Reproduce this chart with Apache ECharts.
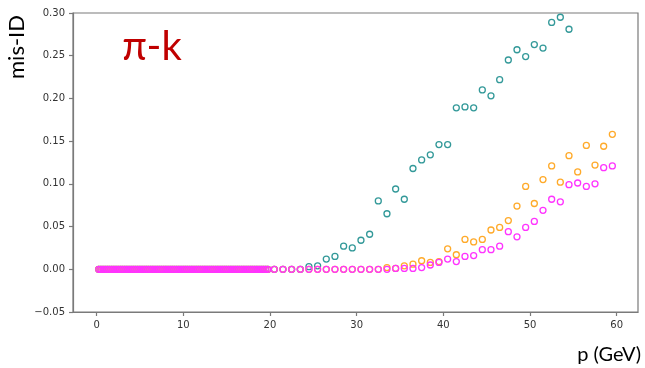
<!DOCTYPE html>
<html>
<head>
<meta charset="utf-8">
<script src="https://cdn.jsdelivr.net/npm/echarts@6/dist/echarts.min.js"></script>
<style>
  html, body { margin: 0; padding: 0; background: #fff; }
  #chart { width: 645px; height: 368px; }
</style>
</head>
<body>
<div id="chart"></div>
<script>
// Momentum bins (GeV): fine 0.25 GeV binning below 20 GeV, 1 GeV bins above
const pLow = [
  0.25, 0.5, 0.75, 1, 1.25, 1.5, 1.75, 2, 2.25, 2.5, 2.75, 3, 3.25, 3.5, 3.75, 4, 4.25, 4.5, 4.75, 5,
  5.25, 5.5, 5.75, 6, 6.25, 6.5, 6.75, 7, 7.25, 7.5, 7.75, 8, 8.25, 8.5, 8.75, 9, 9.25, 9.5, 9.75, 10,
  10.25, 10.5, 10.75, 11, 11.25, 11.5, 11.75, 12, 12.25, 12.5, 12.75, 13, 13.25, 13.5, 13.75, 14, 14.25, 14.5, 14.75, 15,
  15.25, 15.5, 15.75, 16, 16.25, 16.5, 16.75, 17, 17.25, 17.5, 17.75, 18, 18.25, 18.5, 18.75, 19, 19.25, 19.5, 19.75
];
// mis-ID in the fine bins (identical for all three samples)
const lowMisId = [
  0, 0, 0, 0, 0, 0, 0, 0, 0, 0, 0, 0, 0, 0, 0, 0, 0, 0, 0, 0,
  0, 0, 0, 0, 0, 0, 0, 0, 0, 0, 0, 0, 0, 0, 0, 0, 0, 0, 0, 0,
  0, 0, 0, 0, 0, 0, 0, 0, 0, 0, 0, 0, 0, 0, 0, 0, 0, 0, 0, 0,
  0, 0, 0, 0, 0, 0, 0, 0, 0, 0, 0, 0, 0, 0, 0, 0, 0, 0, 0
];
const pHigh = [
  20.5, 21.5, 22.5, 23.5, 24.5, 25.5, 26.5, 27.5, 28.5, 29.5,
  30.5, 31.5, 32.5, 33.5, 34.5, 35.5, 36.5, 37.5, 38.5, 39.5,
  40.5, 41.5, 42.5, 43.5, 44.5, 45.5, 46.5, 47.5, 48.5, 49.5,
  50.5, 51.5, 52.5, 53.5, 54.5, 55.5, 56.5, 57.5, 58.5, 59.5
];
// teal sample: bins above 54.5 GeV lie above the plotted range
const tealHigh = [
  0, 0, 0, 0, 0.003, 0.004, 0.012, 0.015, 0.027, 0.025,
  0.034, 0.041, 0.080, 0.065, 0.094, 0.082, 0.118, 0.128, 0.134, 0.146,
  0.146, 0.189, 0.190, 0.189, 0.210, 0.203, 0.222, 0.245, 0.257, 0.249,
  0.263, 0.259, 0.289, 0.295, 0.281
];
const orangeHigh = [
  0, 0, 0, 0, 0, 0, 0, 0, 0, 0,
  0, 0, 0, 0.002, 0.001, 0.004, 0.006, 0.010, 0.008, 0.009,
  0.024, 0.017, 0.035, 0.032, 0.035, 0.046, 0.049, 0.057, 0.074, 0.097,
  0.077, 0.105, 0.121, 0.102, 0.133, 0.114, 0.145, 0.122, 0.144, 0.158
];
const magentaHigh = [
  0, 0, 0, 0, 0, 0, 0, 0, 0, 0,
  0, 0, 0, 0, 0.001, 0.001, 0.001, 0.002, 0.005, 0.008,
  0.012, 0.009, 0.015, 0.016, 0.023, 0.023, 0.027, 0.044, 0.038, 0.049,
  0.056, 0.069, 0.082, 0.079, 0.099, 0.101, 0.097, 0.100, 0.119, 0.121
];
const xTicks = [0, 10, 20, 30, 40, 50, 60];

function points(highVals) {
  const out = [];
  for (let i = 0; i < pLow.length; i++) out.push([pLow[i], lowMisId[i]]);
  for (let i = 0; i < highVals.length; i++) out.push([pHigh[i], highVals[i]]);
  return out;
}

function ring(name, color, highVals) {
  return {
    name: name,
    type: 'scatter',
    data: points(highVals),
    symbol: 'circle',
    symbolSize: 6,
    itemStyle: { color: 'rgba(0,0,0,0)', borderColor: color, borderWidth: 1.3, opacity: 1 },
    emphasis: { disabled: true },
    clip: true
  };
}

const chart = echarts.init(document.getElementById('chart'), null, { renderer: 'canvas' });
const tickFont = { fontFamily: 'DejaVu Sans', fontSize: 10, color: '#333' };
const spine = { color: '#7a7a7a', width: 1.2 };

chart.setOption({
  animation: false,
  backgroundColor: '#fff',
  grid: { left: 73, top: 13, right: 7, bottom: 56, show: true, borderColor: '#7a7a7a', borderWidth: 1.2, backgroundColor: 'transparent' },
  xAxis: {
    type: 'value',
    min: -2.72,
    max: 62.46,
    splitLine: { show: false },
    axisLine: { show: true, onZero: false, lineStyle: spine },
    axisTick: { show: true, inside: false, length: 4, lineStyle: spine, customValues: xTicks },
    axisLabel: Object.assign({ margin: 8, customValues: xTicks, formatter: v => String(v) }, tickFont)
  },
  yAxis: {
    type: 'value',
    min: -0.05,
    max: 0.30,
    interval: 0.05,
    splitLine: { show: false },
    axisLine: { show: true, onZero: false, lineStyle: spine },
    axisTick: { show: true, inside: false, length: 4, lineStyle: spine },
    axisLabel: Object.assign({ margin: 8, formatter: v => v.toFixed(2).replace('-', '\u2212') }, tickFont)
  },
  series: [
    ring('teal', '#339999', tealHigh),
    ring('orange', '#ffaa2a', orangeHigh),
    ring('magenta', '#ff33ff', magentaHigh)
  ],
  graphic: [
    {
      type: 'text', x: 17, y: 47, rotation: Math.PI / 2,
      style: { text: 'mis-ID', font: '22px Lato', fill: '#000', textAlign: 'center', textVerticalAlign: 'middle' }
    },
    {
      type: 'text', x: 152, y: 47,
      style: { text: '\u03c0-k', font: '40px Lato', fill: '#c00000', textAlign: 'center', textVerticalAlign: 'middle' }
    },
    {
      type: 'text', x: 641, y: 355,
      style: { text: 'p (GeV)', font: '20px Lato', fill: '#000', textAlign: 'right', textVerticalAlign: 'middle' }
    }
  ]
});
</script>
</body>
</html>
